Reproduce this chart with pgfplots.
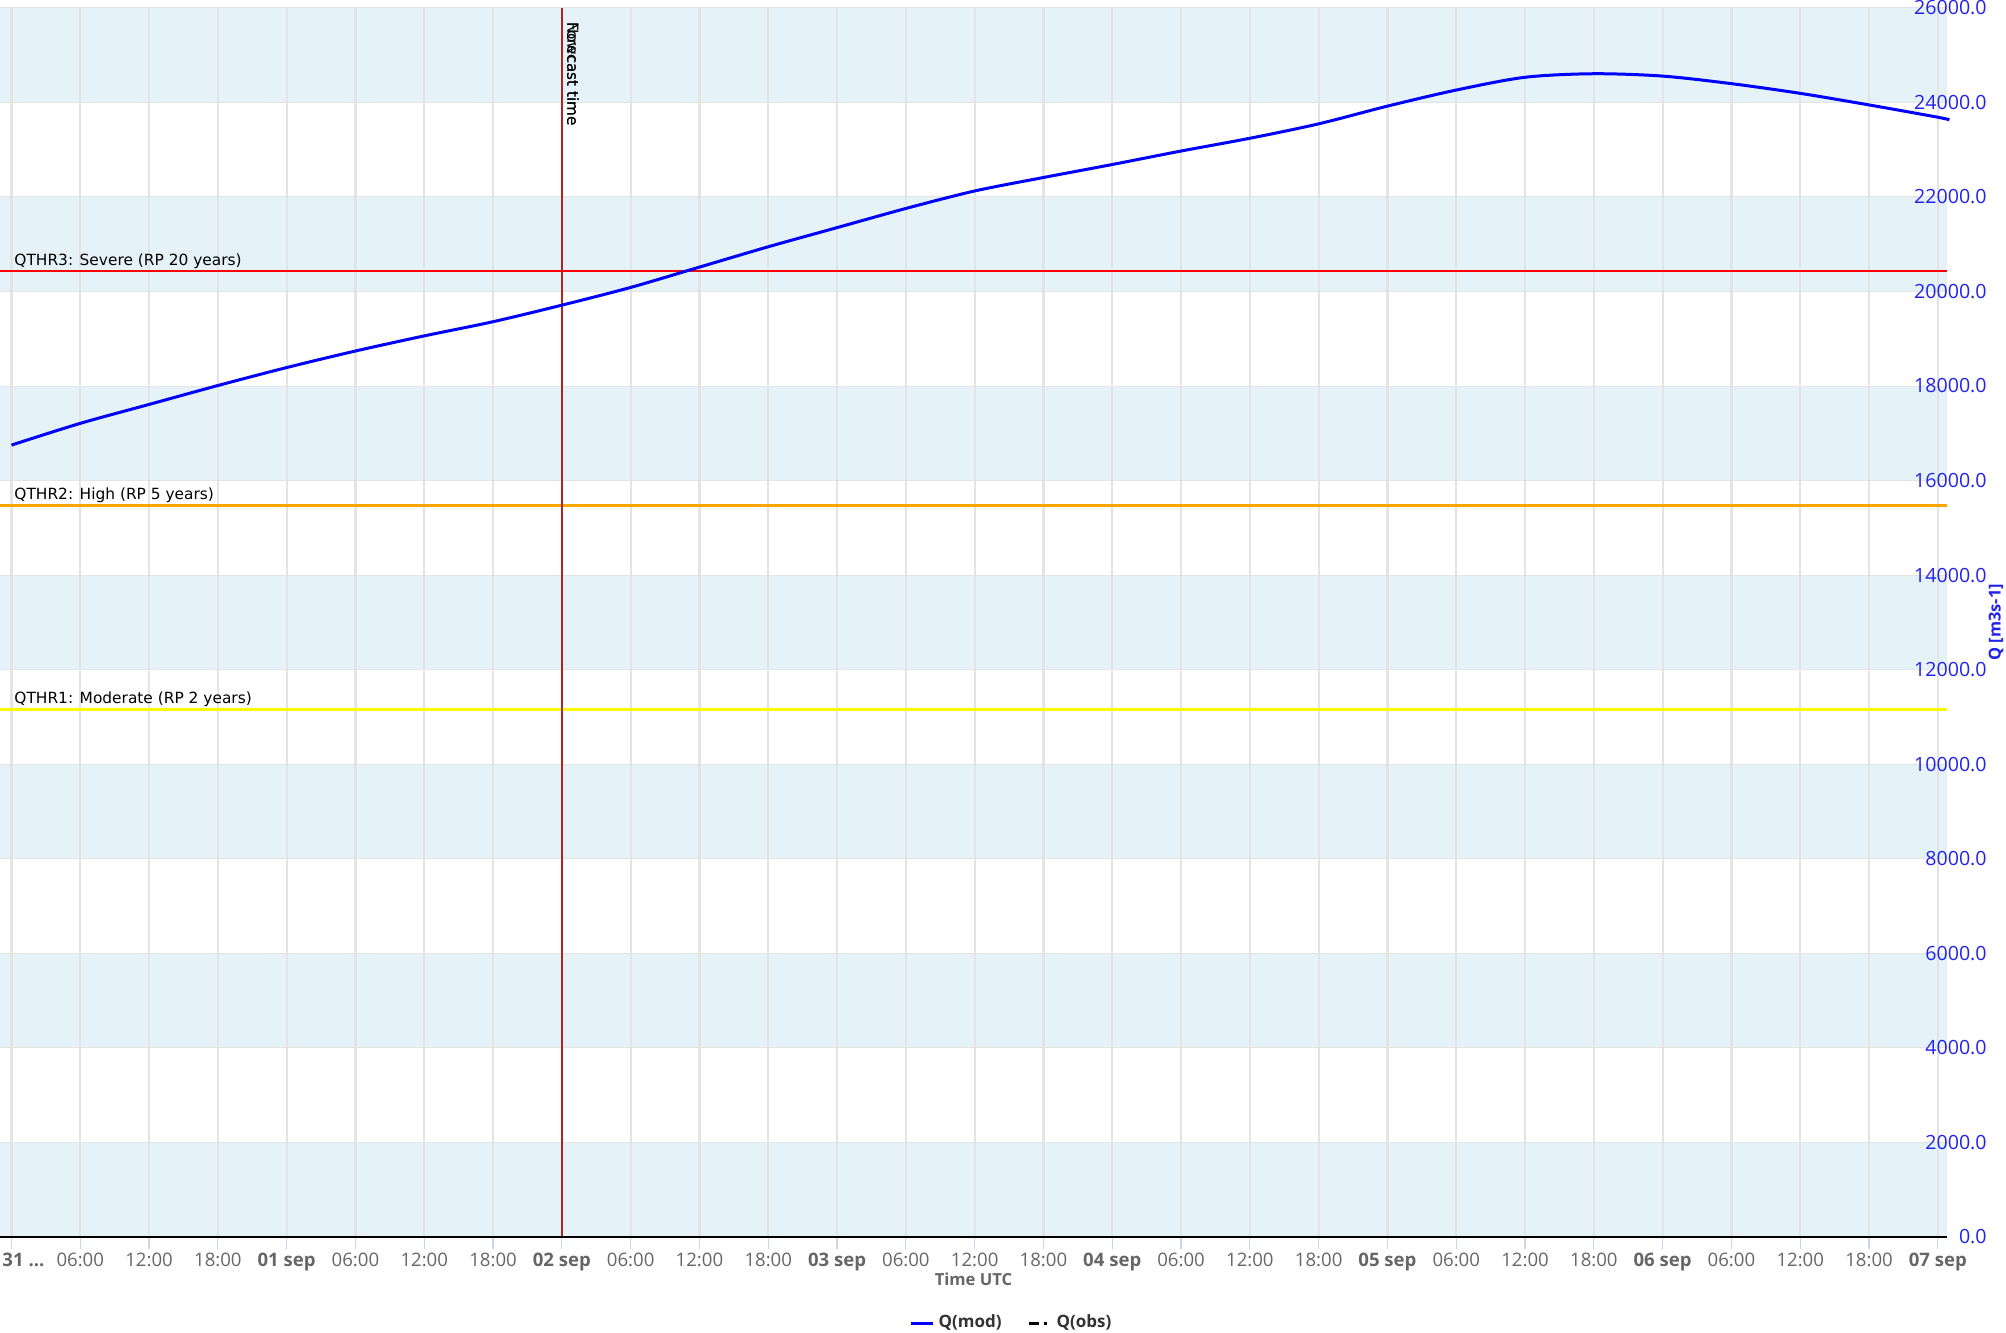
\documentclass[border=0pt]{standalone}
\usepackage{fontspec}
\setmainfont{Open Sans}
\newfontfamily\dejavu{DejaVu Sans}
\usepackage{pgfplots}
\usepackage{pgfplotstable}
\pgfplotsset{compat=1.18}

\definecolor{bandblue}{RGB}{229,243,249}
\definecolor{gridgray}{RGB}{228,228,228}
\definecolor{tickblue}{RGB}{204,214,235}
\definecolor{labelgray}{RGB}{102,102,102}
\definecolor{legendgray}{RGB}{51,51,51}
\definecolor{qblue}{RGB}{0,0,255}
\definecolor{ylabblue}{RGB}{34,34,238}
\definecolor{nowred}{RGB}{178,34,34}
\definecolor{thrred}{RGB}{255,0,0}
\definecolor{throrange}{RGB}{255,165,0}
\definecolor{thryellow}{RGB}{250,250,0}

% hours since 31 Aug 00:00 UTC, discharge m3/s
\pgfplotstableread{
h q
0 16750
6 17210
12 17610
18 18010
24 18390
30 18740
36 19060
42 19360
48 19710
54 20085
60 20515
66 20945
72 21350
78 21755
84 22125
90 22410
96 22685
102 22970
108 23240
114 23545
120 23920
126 24260
132 24530
138 24605
144 24555
150 24395
156 24190
162 23945
168 23685
169 23630
}\qmod

\begin{document}
\begin{tikzpicture}
\begin{axis}[
    scale only axis,
    width=973.5pt, height=614.6pt,
    xmin=-1, xmax=168.8, ymin=0, ymax=26000,
    set layers,
    clip=false,
    axis line style={draw=none},
    xtick={0,6,...,168},
    xticklabels={\makebox[0pt][l]{\hspace*{-4.5pt}\textbf{31 ...}},06:00,12:00,18:00,\textbf{01 sep},06:00,12:00,18:00,\textbf{02 sep},06:00,12:00,18:00,\textbf{03 sep},06:00,12:00,18:00,\textbf{04 sep},06:00,12:00,18:00,\textbf{05 sep},06:00,12:00,18:00,\textbf{06 sep},06:00,12:00,18:00,\textbf{07 sep}},
    ytick={0,2000,...,26000},
    scaled y ticks=false,
    xtick pos=left, ytick pos=right, yticklabel pos=right,
    xtick align=outside,
    major tick length=6pt,
    xtick style={draw=tickblue, line width=0.6pt},
    ytick style={draw=none},
    xmajorgrids, ymajorgrids,
    x grid style={draw=gridgray, line width=1.1pt},
    y grid style={draw=gridgray, line width=0.5pt},
    xticklabel style={font=\fontsize{9.3}{11}\selectfont, text=labelgray, yshift=1.4pt},
    yticklabel style={font=\fontsize{9.8}{11}\selectfont, text=ylabblue, anchor=east, inner sep=0pt, xshift=20pt},
    /pgf/number format/fixed,
    /pgf/number format/fixed zerofill,
    /pgf/number format/precision=1,
    /pgf/number format/1000 sep={},
    /pgf/number format/assume math mode=true,
    xlabel={Time UTC},
    every axis x label/.style={at={(axis description cs:0.5,0)}, anchor=center, yshift=-21pt, font=\bfseries\fontsize{8.3}{10}\selectfont, text=labelgray},
    ylabel={Q [m3s-1]},
    every axis y label/.style={at={(axis description cs:1.02517,0.5)}, rotate=90, anchor=center, font=\bfseries\fontsize{8.2}{9}\selectfont, text=ylabblue},
    legend columns=2,
    legend style={draw=none, fill=none, at={(axis description cs:0.52,0)}, anchor=center, yshift=-43pt,
        font=\bfseries\fontsize{8.5}{10}\selectfont, text=legendgray,
        /tikz/every even column/.append style={column sep=11pt}},
    legend image code/.code={\draw[#1] (0pt,0pt) -- (11pt,0pt);},
]
\begin{pgfonlayer}{axis background}
\fill[bandblue] (axis cs:-1,0) rectangle (axis cs:168.8,2000);
\fill[bandblue] (axis cs:-1,4000) rectangle (axis cs:168.8,6000);
\fill[bandblue] (axis cs:-1,8000) rectangle (axis cs:168.8,10000);
\fill[bandblue] (axis cs:-1,12000) rectangle (axis cs:168.8,14000);
\fill[bandblue] (axis cs:-1,16000) rectangle (axis cs:168.8,18000);
\fill[bandblue] (axis cs:-1,20000) rectangle (axis cs:168.8,22000);
\fill[bandblue] (axis cs:-1,24000) rectangle (axis cs:168.8,26000);
\end{pgfonlayer}

% warning thresholds
\addplot[thrred, line width=1.2pt, forget plot] coordinates {(-1,20430) (168.8,20430)};
\addplot[throrange, line width=1.2pt, forget plot] coordinates {(-1,15475) (168.8,15475)};
\addplot[thryellow, line width=1.2pt, forget plot] coordinates {(-1,11160) (168.8,11160)};

% nowcast time
\addplot[nowred, line width=1.1pt, forget plot] coordinates {(48,0) (48,26000)};

\addplot[qblue, line width=1.5pt, smooth] table {\qmod};
\addlegendentry{Q(mod)}
\addlegendimage{black, line width=1.5pt, dash pattern=on 5pt off 2.5pt on 1.5pt off 2.5pt}
\addlegendentry{Q(obs)}

\draw[black, line width=1.3pt] (rel axis cs:0,0) -- (rel axis cs:1,0);

\node[anchor=base west, inner sep=0pt, font=\dejavu\fontsize{7.7}{9}\selectfont] at ([xshift=7pt, yshift=2.9pt]axis cs:-1,20430) {QTHR3: Severe (RP 20 years)};
\node[anchor=base west, inner sep=0pt, font=\dejavu\fontsize{7.7}{9}\selectfont] at ([xshift=7pt, yshift=2.9pt]axis cs:-1,15475) {QTHR2: High (RP 5 years)};
\node[anchor=base west, inner sep=0pt, font=\dejavu\fontsize{7.7}{9}\selectfont] at ([xshift=7pt, yshift=2.9pt]axis cs:-1,11160) {QTHR1: Moderate (RP 2 years)};

\node[rotate=-90, anchor=base west, inner sep=0pt, font=\dejavu\fontsize{7.6}{9}\selectfont] at ([xshift=2.75pt, yshift=-7pt]axis cs:48,26000) {Nowcast time};
\node[rotate=-90, anchor=base west, inner sep=0pt, font=\dejavu\fontsize{7.6}{9}\selectfont] at ([xshift=2.75pt, yshift=-7pt]axis cs:48,26000) {Forecast time};
\end{axis}
\pgfresetboundingbox
\path[use as bounding box] ([yshift=-47.5pt]current axis.south west) rectangle ([xshift=29.5pt, yshift=3.9pt]current axis.north east);
\end{tikzpicture}
\end{document}
